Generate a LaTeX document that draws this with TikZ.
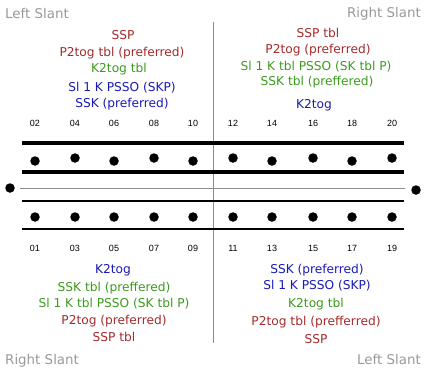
\documentclass[tikz,border=0pt]{standalone}
\usepackage{fontspec}
\setmainfont{DejaVu Sans}
\newfontfamily\numfont{Liberation Sans}
\definecolor{cred}{HTML}{A52A2A}
\definecolor{cgreen}{HTML}{3C9A1E}
\definecolor{cblue}{HTML}{1A1AB4}
\definecolor{cgray}{HTML}{999999}
\definecolor{lgray}{HTML}{8C8C8C}
\begin{document}
\begin{tikzpicture}[x=1pt,y=-1pt,
  lbl/.style={inner sep=0pt,font=\fontsize{12.2}{14}\selectfont},
  red/.style={lbl,text=cred},
  grn/.style={lbl,text=cgreen},
  blu/.style={lbl,text=cblue},
  slant/.style={inner sep=0pt,font=\fontsize{13.4}{15}\selectfont,text=cgray},
  num/.style={inner sep=0pt,font=\numfont\fontsize{9}{10}\selectfont},
  stitch/.style={circle,fill=black,inner sep=0pt,minimum size=9.5pt}]
\useasboundingbox (0,0) rectangle (425,372);
% slant labels
\node[slant,anchor=west] (ls1) at (5,14) {Left Slant};
\node[slant,anchor=east] (rs1) at (421,14) {Right Slant};
\node[slant,anchor=west] (rs2) at (5,361) {Right Slant};
\node[slant,anchor=east] (ls2) at (421,359) {Left Slant};
% divider
\coordinate (vt) at (213,22);
\coordinate (vb) at (213,343);
\draw[lgray,line width=0.8pt] (vt) -- (vb);
% top left block
\node[red] (tl1) at (123,35) {SSP};
\node[red] (tl2) at (122,53) {P2tog tbl (preferred)};
\node[grn] (tl3) at (119,69) {K2tog tbl};
\node[blu] (tl4) at (122,88) {Sl 1 K PSSO (SKP)};
\node[blu] (tl5) at (122,104) {SSK (preferred)};
% top right block
\node[red] (tr1) at (318,33) {SSP tbl};
\node[red] (tr2) at (318,50) {P2tog (preferred)};
\node[grn] (tr3) at (316,67) {Sl 1 K tbl PSSO (SK tbl P)};
\node[grn] (tr4) at (317,82) {SSK tbl (preffered)};
\node[blu] (tr5) at (314,105) {K2tog};
% bottom left block
\node[blu] (bl1) at (113,270) {K2tog};
\node[grn] (bl2) at (114,288) {SSK tbl (preffered)};
\node[grn] (bl3) at (114,304) {Sl 1 K tbl PSSO (SK tbl P)};
\node[red] (bl4) at (114,321) {P2tog (preferred)};
\node[red] (bl5) at (114,337) {SSP tbl};
% bottom right block
\node[blu] (br1) at (317,270) {SSK (preferred)};
\node[blu] (br2) at (317,286) {Sl 1 K PSSO (SKP)};
\node[grn] (br3) at (316,304) {K2tog tbl};
\node[red] (br4) at (316,322) {P2tog tbl (prefferred)};
\node[red] (br5) at (316,339) {SSP};
% lines
\coordinate (ml) at (20,188);
\coordinate (mr) at (405,188);
\draw[lgray,line width=0.8pt] (ml) -- (mr);
\draw[line width=3.8pt] (22,143) -- (404,143);
\draw[line width=3.2pt] (22,172) -- (404,172);
\draw[line width=2.2pt] (22,201) -- (404,201);
\draw[line width=2.2pt] (22,229) -- (404,229);
% side dots
\node[stitch] (sl) at (10,188) {};
\node[stitch] (sr) at (416,190) {};
% top row
\foreach \n/\x/\y in {02/35/161,04/75/158,06/114/161,08/154/158,10/193/161,12/233/158,14/272/161,16/313/158,18/352/161,20/392/158}{
  \node[stitch] (t\n) at (\x,\y) {};
  \node[num] (tn\n) at (\x,123) {\n};
}
\foreach \n/\x in {01/35,03/75,05/114,07/154,09/193,11/233,13/272,15/313,17/352,19/392}{
  \node[stitch] (b\n) at (\x,217) {};
  \node[num] (bn\n) at (\x,248) {\n};
}
\end{tikzpicture}
\end{document}
